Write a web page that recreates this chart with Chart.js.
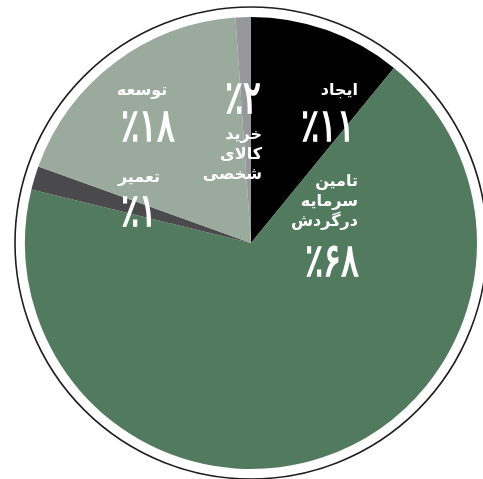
<!DOCTYPE html>
<html>
<head>
<meta charset="utf-8">
<script src="https://cdn.jsdelivr.net/npm/chart.js@4/dist/chart.umd.min.js"></script>
<style>
    html, body { margin: 0; padding: 0; background: #fff; }
    canvas { display: block; }
</style>
</head>
<body>
<canvas id="chart" width="483" height="479"></canvas>
<script>
// clockwise from 12 o'clock, slice sizes as drawn in the picture
let categories = ["ایجاد", "تامین سرمایه در گردش", "تعمیر", "توسعه", "خرید کالای شخصی"];
let sliceValues = [10.9, 67.9, 1.7, 18.4, 1.1];
let percentLabels = ["٪۱۱", "٪۶۸", "٪۱", "٪۱۸", "٪۲"];
let nameLines = [["ایجاد"], ["تامین", "سرمایه", "درگردش"], ["تعمیر"], ["توسعه"], ["خرید", "کالای", "شخصی"]];
let colors = ["#000000", "#527a5f", "#4a4a4d", "#9aaa9c", "#97989c"];

// label anchors, offsets from the pie centre in pixels at radius 226
let labelLayout = [
    { nx: 107, ny: -152, align: "right", px: 77, py: -114 },
    { nx: 107, ny: -61, align: "right", px: 81, py: 21 },
    { nx: -112, ny: -65, align: "center", px: -112, py: -29 },
    { nx: -109, ny: -152, align: "center", px: -103, py: -114 },
    { nx: 11, ny: -108, align: "right", px: -8, py: -142 }
];

const ringPlugin = {
    id: "ring",
    afterDatasetsDraw(chart) {
        let arc = chart.getDatasetMeta(0).data[0];
        let ctx = chart.ctx;
        let s = arc.outerRadius / 226;

        ctx.save();
        ctx.beginPath();
        ctx.arc(arc.x, arc.y, arc.outerRadius + 10 * s, 0, Math.PI * 2);
        ctx.strokeStyle = "#1e1e1e";
        ctx.lineWidth = 1.6;
        ctx.stroke();

        ctx.fillStyle = "#ffffff";
        ctx.strokeStyle = "#ffffff";
        ctx.textBaseline = "middle";
        ctx.direction = "ltr";
        labelLayout.forEach((l, i) => {
            ctx.font = "bold 16px 'DejaVu Sans'";
            ctx.textAlign = l.align;
            nameLines[i].forEach((line, j) => {
                ctx.fillText(line, arc.x + l.nx * s, arc.y + (l.ny + j * 20) * s);
            });
            // percent figures are tall and narrow in the original
            ctx.save();
            ctx.translate(arc.x + l.px * s, arc.y + l.py * s);
            ctx.scale(0.72, 1);
            ctx.font = "46px 'DejaVu Sans'";
            ctx.textAlign = "center";
            ctx.lineWidth = 1.6;
            ctx.fillText(percentLabels[i], 0, 0);
            ctx.strokeText(percentLabels[i], 0, 0);
            ctx.restore();
        });
        ctx.restore();
    }
};

let canvas = document.getElementById("chart");
let context = canvas.getContext("2d");

let chart = new Chart(context, {
    type: "pie",
    data: {
        labels: categories,
        datasets: [
            {
                data: sliceValues,
                backgroundColor: colors,
                borderWidth: 0
            }
        ]
    },
    options: {
        responsive: false,
        animation: false,
        devicePixelRatio: 1,
        layout: {
            padding: { left: 25, right: 6, top: 17, bottom: 10 }
        },
        plugins: {
            legend: { display: false },
            tooltip: { enabled: false }
        }
    },
    plugins: [ringPlugin]
});
</script>
</body>
</html>
